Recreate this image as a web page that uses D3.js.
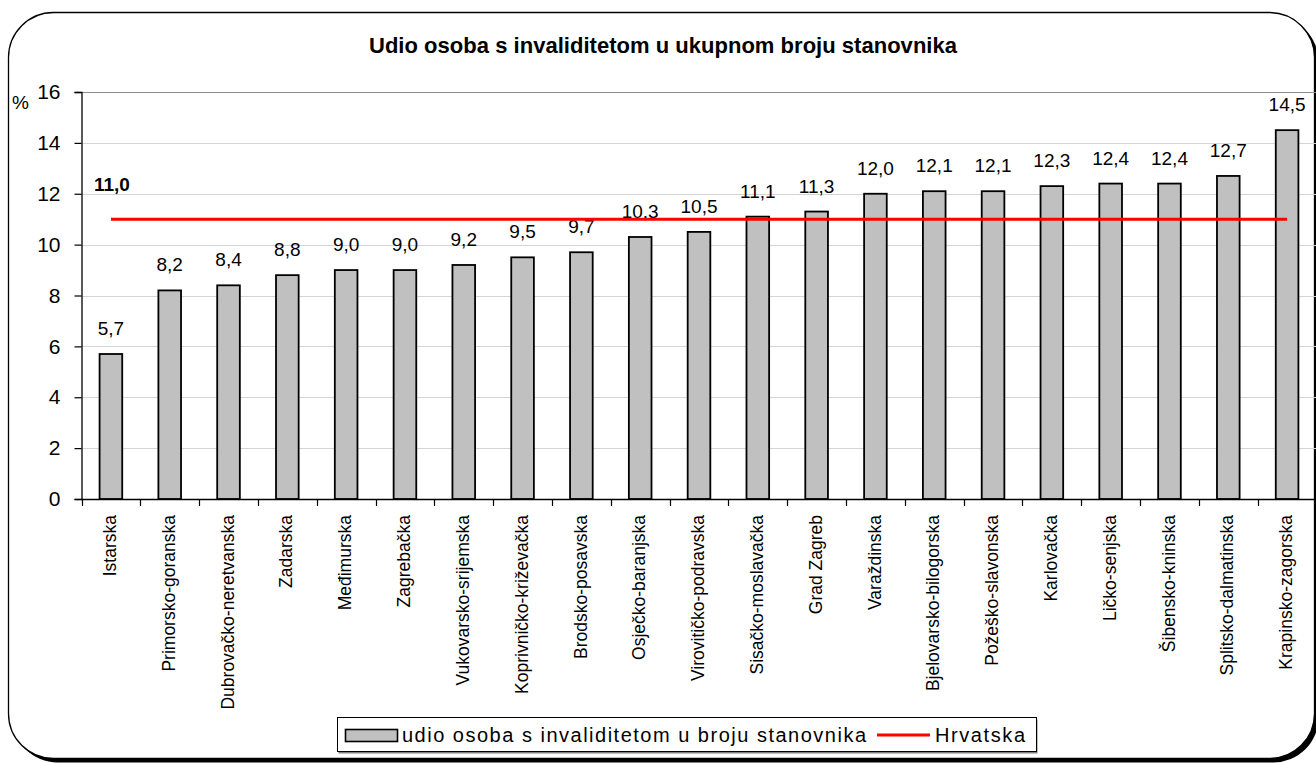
<!DOCTYPE html>
<html>
<head>
<meta charset="utf-8">
<script src="https://cdn.jsdelivr.net/npm/d3@7"></script>
<style>
  html, body { margin: 0; padding: 0; background: #fff; }
  svg { display: block; font-family: "Liberation Sans", Arial, sans-serif; }
</style>
</head>
<body>
<svg id="chart" width="1316" height="763"></svg>
<script>
// Counties, ordered by share of persons with disabilities (%)
const categories = [
  "Istarska", "Primorsko-goranska", "Dubrovačko-neretvanska", "Zadarska",
  "Međimurska", "Zagrebačka", "Vukovarsko-srijemska", "Koprivničko-križevačka",
  "Brodsko-posavska", "Osječko-baranjska", "Virovitičko-podravska",
  "Sisačko-moslavačka", "Grad Zagreb", "Varaždinska", "Bjelovarsko-bilogorska",
  "Požeško-slavonska", "Karlovačka", "Ličko-senjska", "Šibensko-kninska",
  "Splitsko-dalmatinska", "Krapinsko-zagorska"
];
const shareValues = [5.7, 8.2, 8.4, 8.8, 9.0, 9.0, 9.2, 9.5, 9.7, 10.3, 10.5,
  11.1, 11.3, 12.0, 12.1, 12.1, 12.3, 12.4, 12.4, 12.7, 14.5];
const croatiaValue = 11.0;
const yTicks = [0, 2, 4, 6, 8, 10, 12, 14, 16];

const titleText = "Udio osoba s invaliditetom u ukupnom broju stanovnika";
const barLegend = "udio osoba s invaliditetom u broju stanovnika";
const lineLegend = "Hrvatska";

const fmt = d3.formatLocale({decimal: ",", thousands: ".", grouping: [3], currency: ["", ""]}).format(".1f");

const svg = d3.select("#chart");

// outer rounded frame with drop shadow
svg.append("rect").attr("x", 12.5).attr("y", 16.5).attr("width", 1306).attr("height", 746)
  .attr("rx", 45).attr("fill", "#000");
svg.append("rect").attr("x", 8.5).attr("y", 12.5).attr("width", 1306).attr("height", 746)
  .attr("rx", 45).attr("fill", "#fff").attr("stroke", "#000").attr("stroke-width", 1.3);

// title
svg.append("text").attr("x", 663).attr("y", 53).attr("text-anchor", "middle")
  .attr("font-size", 22).attr("font-weight", "bold")
  .attr("textLength", 588).attr("lengthAdjust", "spacing").text(titleText);

// scales
const x = d3.scaleBand().domain(categories).range([81.5, 1316.5]);
const y = d3.scaleLinear().domain([0, 16]).range([499, 92]);
const barW = x.bandwidth() * 0.385;
const cx = d => x(d) + x.bandwidth() / 2;

// gridlines
svg.append("g").selectAll("line").data(yTicks.filter(t => t > 0)).join("line")
  .attr("x1", 81.5).attr("x2", 1316.5)
  .attr("y1", d => Math.round(y(d)) + 0.5).attr("y2", d => Math.round(y(d)) + 0.5)
  .attr("stroke", d => d === 16 ? "#8c8c8c" : "#d4d4d4").attr("stroke-width", 1.2);

// y axis
const yAxis = svg.append("g").attr("transform", "translate(81.5,0)")
  .call(d3.axisLeft(y).tickValues(yTicks).tickSize(7).tickPadding(14).tickFormat(d3.format("d")));
yAxis.select(".domain").attr("stroke", "#000").attr("stroke-width", 1.3);
yAxis.selectAll(".tick line").attr("stroke", "#000").attr("stroke-width", 1.2);
yAxis.selectAll(".tick text").attr("font-size", 21).attr("fill", "#000")
  .attr("font-family", "Liberation Sans, Arial, sans-serif");

svg.append("text").attr("x", 12).attr("y", 109).attr("font-size", 19).text("%");

// bars
svg.append("g").selectAll("rect").data(categories).join("rect")
  .attr("x", (d) => cx(d) - barW / 2)
  .attr("y", (d, i) => y(shareValues[i]))
  .attr("width", barW)
  .attr("height", (d, i) => y(0) - y(shareValues[i]))
  .attr("fill", "#c0c0c0").attr("stroke", "#000").attr("stroke-width", 1.8);

// value labels
svg.append("g").selectAll("text").data(categories).join("text")
  .attr("x", d => cx(d))
  .attr("y", (d, i) => y(shareValues[i]) - 19)
  .attr("text-anchor", "middle").attr("font-size", 19)
  .text((d, i) => fmt(shareValues[i]));

// x axis
const xAxisG = svg.append("g");
xAxisG.append("line").attr("x1", 81.5).attr("x2", 1316.5).attr("y1", 499.5).attr("y2", 499.5)
  .attr("stroke", "#000").attr("stroke-width", 1.3);
xAxisG.selectAll("line.tk").data(categories).join("line").attr("class", "tk")
  .attr("x1", d => Math.round(x(d)) + 0.5).attr("x2", d => Math.round(x(d)) + 0.5)
  .attr("y1", 499).attr("y2", 506).attr("stroke", "#000").attr("stroke-width", 1.2);
xAxisG.selectAll("text").data(categories).join("text")
  .attr("transform", d => `translate(${cx(d) - 1},515) rotate(-90)`)
  .attr("text-anchor", "end").attr("dy", "0.35em").attr("font-size", 17.5)
  .text(d => d);

// national average line
const line = d3.line().x(d => cx(d)).y(() => y(croatiaValue));
svg.append("path").datum(categories).attr("d", line)
  .attr("fill", "none").attr("stroke", "#ff0000").attr("stroke-width", 3);
svg.append("text").attr("x", cx(categories[0]) + 1).attr("y", y(croatiaValue) - 28)
  .attr("text-anchor", "middle").attr("font-size", 19).attr("font-weight", "bold")
  .text(fmt(croatiaValue));

// legend
const lg = svg.append("g");
lg.append("rect").attr("x", 338.5).attr("y", 719.5).attr("width", 699).attr("height", 34)
  .attr("fill", "#808080");
lg.append("rect").attr("x", 337.5).attr("y", 717.5).attr("width", 699).attr("height", 34)
  .attr("fill", "#fff").attr("stroke", "#000").attr("stroke-width", 1);
lg.append("rect").attr("x", 345.5).attr("y", 729.5).attr("width", 52).attr("height", 12)
  .attr("fill", "#c0c0c0").attr("stroke", "#000").attr("stroke-width", 1.6);
lg.append("text").attr("x", 402).attr("y", 742).attr("font-size", 20)
  .attr("textLength", 464).attr("lengthAdjust", "spacing").text(barLegend);
lg.append("line").attr("x1", 877).attr("x2", 930).attr("y1", 735).attr("y2", 735)
  .attr("stroke", "#ff0000").attr("stroke-width", 3);
lg.append("text").attr("x", 935).attr("y", 742).attr("font-size", 20)
  .attr("textLength", 90).attr("lengthAdjust", "spacing").text(lineLegend);
</script>
</body>
</html>
